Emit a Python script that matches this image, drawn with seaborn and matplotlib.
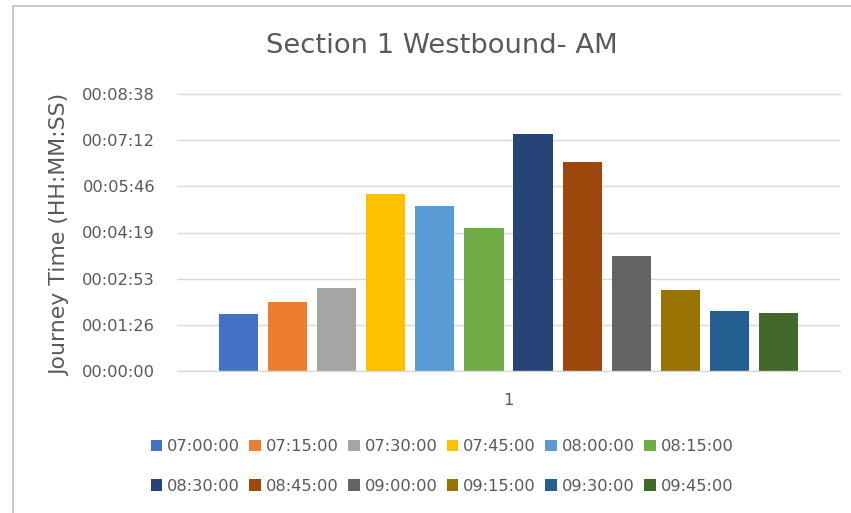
import matplotlib
matplotlib.use("Agg")
import matplotlib.pyplot as plt
from matplotlib.patches import Patch, Rectangle
import pandas as pd
import seaborn as sns

# Survey slots and the measured journey time for each (seconds)
times = ["07:00:00", "07:15:00", "07:30:00", "07:45:00", "08:00:00", "08:15:00",
         "08:30:00", "08:45:00", "09:00:00", "09:15:00", "09:30:00", "09:45:00"]
journey_seconds = [106, 129, 155, 331, 308, 268, 444, 391, 216, 152, 113, 109]
group_labels = ["1"] * len(times)

# Office-style series colours
colors = ["#4472C4", "#ED7D31", "#A5A5A5", "#FFC000", "#5B9BD5", "#70AD47",
          "#264478", "#9E480E", "#636363", "#997300", "#255E91", "#43682B"]

# Y ticks every 0.001 day (86.4 s)
tick_seconds = [i * 86.4 for i in range(7)]

title = "Section 1 Westbound- AM"
y_title = "Journey Time (HH:MM:SS)"
text_color = "#595959"
grid_color = "#D9D9D9"


def hms(s):
    s = int(round(s))
    return f"{s // 3600:02d}:{(s % 3600) // 60:02d}:{s % 60:02d}"


df = pd.DataFrame({"group": group_labels, "time": times, "seconds": journey_seconds})

sns.set_theme(style="white")
plt.rcParams["font.family"] = ["DejaVu Sans"]

W, H = 851, 513
fig = plt.figure(figsize=(W / 100, H / 100), dpi=100)
fig.patch.set_facecolor("white")

ax = fig.add_axes([177 / W, 1 - 371 / H, 663 / W, 277 / H])
sns.barplot(data=df, x="group", y="seconds", hue="time", hue_order=times,
            palette=colors, saturation=1, width=0.889, gap=0.2, errorbar=None,
            linewidth=0, legend=False, ax=ax)

ax.set_ylim(0, tick_seconds[-1])
ax.set_yticks(tick_seconds)
ax.set_yticklabels([hms(t) for t in tick_seconds])
ax.set_xlabel("")
ax.set_ylabel("")
ax.yaxis.grid(True, color=grid_color, lw=1)
ax.set_axisbelow(True)
for side in ["top", "left", "right"]:
    ax.spines[side].set_visible(False)
ax.spines["bottom"].set_color(grid_color)
ax.spines["bottom"].set_linewidth(1)
ax.tick_params(axis="y", length=0, pad=15.8, labelsize=11.7, labelcolor=text_color)
ax.tick_params(axis="x", length=0, pad=15.8, labelsize=11.7, labelcolor=text_color)
ax.yaxis.get_gridlines()[-1].set_clip_on(False)

fig.text(441.5 / W, 1 - 46 / H, title, ha="center", va="center",
         fontsize=19.7, color=text_color)
fig.text(60 / W, 1 - 235 / H, y_title, rotation=90, ha="center", va="center",
         fontsize=15.8, color=text_color)

# legend laid out row by row (matplotlib fills columns first)
ncol = 6
order = [r * ncol + c for c in range(ncol) for r in range(len(times) // ncol)]
handles = [Patch(facecolor=colors[i], edgecolor="none") for i in order]
labels = [times[i] for i in order]
leg = fig.legend(handles=handles, labels=labels, ncol=ncol, loc="center",
                 bbox_to_anchor=(442 / W, 1 - 466.5 / H), frameon=False,
                 fontsize=11.7, handlelength=0.7, handleheight=0.7,
                 handletextpad=0.3, columnspacing=0.59, labelspacing=1.5)
for t in leg.get_texts():
    t.set_color(text_color)

# chart area border
fig.add_artist(Rectangle((13 / W, -0.05), 1.5, 1 - 6 / H + 0.05,
                         transform=fig.transFigure, fill=False,
                         edgecolor="#BFBFBF", lw=1.2))

fig.savefig("out.png", dpi=100)
